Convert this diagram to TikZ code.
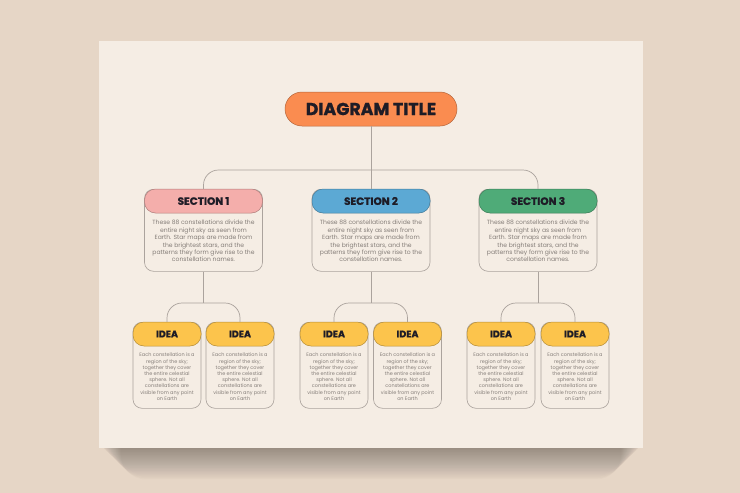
\documentclass[tikz,border=0pt]{standalone}
\usepackage{fontspec}
\setmainfont{Poppins}
\newfontfamily\heavyfont{Poppins}[BoldFeatures={FakeBold=1.2}]
\usetikzlibrary{positioning}

\definecolor{deskbg}{HTML}{E6D6C6}
\definecolor{paper}{HTML}{F5EDE4}
\definecolor{linegray}{HTML}{ABA39D}
\definecolor{textgray}{HTML}{857E79}
\definecolor{inkdark}{HTML}{1E1C26}
\definecolor{titleorange}{HTML}{FA8C50}
\definecolor{secpink}{HTML}{F4AEAB}
\definecolor{secblue}{HTML}{5CA9D4}
\definecolor{secgreen}{HTML}{4FAB78}
\definecolor{ideayellow}{HTML}{FCC44C}

\newcommand{\secblurb}{These 88 constellations divide the\\entire night sky as seen from\\Earth. Star maps are made from\\the brightest stars, and the\\patterns they form give rise to the\\constellation names.}
\newcommand{\ideablurb}{Each constellation is a\\region of the sky;\\together they cover\\the entire celestial\\sphere. Not all\\constellations are\\visible from any point\\on Earth}

\tikzset{
  link/.style={draw=linegray, line width=0.7pt},
  pill/.style={draw=#1!72!black, fill=#1, line width=0.5pt, text=inkdark, inner sep=0pt},
  sechead/.style={pill=#1, rounded corners=11, minimum width=118, minimum height=24, font=\heavyfont\bfseries\fontsize{10.5}{12}\selectfont},
  ideahead/.style={pill=#1, rounded corners=11, minimum width=68, minimum height=24, font=\heavyfont\bfseries\fontsize{9.6}{11}\selectfont},
  secbox/.style={draw=linegray, line width=0.6pt, rounded corners=9, minimum width=118, minimum height=82, anchor=north, inner sep=0pt},
  ideabox/.style={draw=linegray, line width=0.6pt, rounded corners=9, minimum width=68, minimum height=86, anchor=north, inner sep=0pt},
  sectext/.style={text=textgray, align=center, inner sep=0pt, font=\fontsize{6.05}{7.47}\selectfont},
  ideatext/.style={text=textgray, align=center, inner sep=0pt, font=\fontsize{4.95}{6.2}\selectfont},
  shade/.style={fill=black, opacity=0.016},
}

\begin{document}
\begin{tikzpicture}[x=1pt, y=-1pt]
\useasboundingbox (0,0) rectangle (740,493);
\fill [deskbg] (0,0) rectangle (740,493);
% soft shadow under the sheet
\foreach \k in {0,...,21}
  \fill [shade, rounded corners=4+\k] (102+\k*0.9,60) rectangle (640-\k*0.9,449+\k*1.45);
\fill [paper] (99,41) rectangle (643,448);

% title
\node [pill=titleorange, rounded corners=17, minimum width=172, minimum height=34, font=\heavyfont\bfseries\fontsize{17.3}{19}\selectfont] (title) at (371,109) {DIAGRAM TITLE};

% sections
\node [secbox] (sec1box) at (203.5,189) {};
\node [sechead=secpink] (sec1head) at (203.5,201) {SECTION 1};
\node [sectext] (sec1text) at (203.5,241) {\secblurb};

\node [secbox] (sec2box) at (371,189) {};
\node [sechead=secblue] (sec2head) at (371,201) {SECTION 2};
\node [sectext] (sec2text) at (371,241) {\secblurb};

\node [secbox] (sec3box) at (538,189) {};
\node [sechead=secgreen] (sec3head) at (538,201) {SECTION 3};
\node [sectext] (sec3text) at (538,241) {\secblurb};

% ideas
\node [ideabox] (idea1box) at (167,322) {};
\node [ideahead=ideayellow] (idea1head) at (167,334) {IDEA};
\node [ideatext] (idea1text) at (167,376.7) {\ideablurb};

\node [ideabox] (idea2box) at (240,322) {};
\node [ideahead=ideayellow] (idea2head) at (240,334) {IDEA};
\node [ideatext] (idea2text) at (240,376.7) {\ideablurb};

\node [ideabox] (idea3box) at (334,322) {};
\node [ideahead=ideayellow] (idea3head) at (334,334) {IDEA};
\node [ideatext] (idea3text) at (334,376.7) {\ideablurb};

\node [ideabox] (idea4box) at (407.5,322) {};
\node [ideahead=ideayellow] (idea4head) at (407.5,334) {IDEA};
\node [ideatext] (idea4text) at (407.5,376.7) {\ideablurb};

\node [ideabox] (idea5box) at (501,322) {};
\node [ideahead=ideayellow] (idea5head) at (501,334) {IDEA};
\node [ideatext] (idea5text) at (501,376.7) {\ideablurb};

\node [ideabox] (idea6box) at (575,322) {};
\node [ideahead=ideayellow] (idea6head) at (575,334) {IDEA};
\node [ideatext] (idea6text) at (575,376.7) {\ideablurb};

% connectors
\coordinate (bus) at (371,170);
\coordinate (fork1) at (203.5,303);
\coordinate (fork2) at (371,303);
\coordinate (fork3) at (538,303);

\draw [link] (title.south) -- (sec2head.north);
\draw [link, rounded corners=15] (sec1head.north) |- (bus) -| (sec3head.north);

\draw [link] (sec1box.south) -- (fork1);
\draw [link, rounded corners=15] (idea1head.north) |- (fork1) -| (idea2head.north);
\draw [link] (sec2box.south) -- (fork2);
\draw [link, rounded corners=15] (idea3head.north) |- (fork2) -| (idea4head.north);
\draw [link] (sec3box.south) -- (fork3);
\draw [link, rounded corners=15] (idea5head.north) |- (fork3) -| (idea6head.north);
\end{tikzpicture}
\end{document}
